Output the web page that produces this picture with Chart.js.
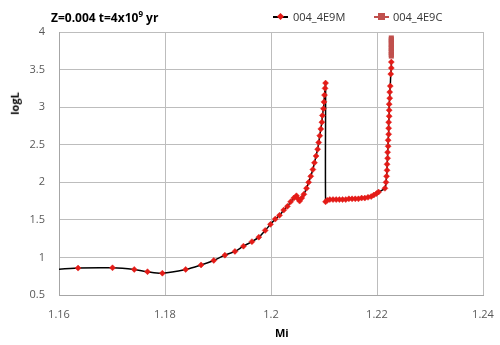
<!DOCTYPE html>
<html>
<head>
<meta charset="utf-8">
<script src="https://cdn.jsdelivr.net/npm/chart.js@4.4.0/dist/chart.umd.min.js"></script>
<style>
    body { margin: 0; background: #fff; }
    #wrap { position: relative; width: 500px; height: 345px; font-family: "Open Sans", "Liberation Sans", sans-serif; }
    #chart { position: absolute; left: 0; top: 0; }
    .lbl { position: absolute; color: #000; white-space: nowrap; }
    #title { left: 51px; top: 8px; font-size: 12px; font-weight: bold; }
    #title sup { font-size: 8px; }
    #xTitle { left: 275px; top: 325px; font-size: 11px; font-weight: bold; }
    #yTitle { left: 3px; top: 96px; font-size: 11px; font-weight: bold; transform: rotate(-90deg); }
    .leg { position: absolute; top: 9px; font-size: 11px; color: #333; }
    .leg .ln { position: absolute; top: 7px; width: 15px; height: 2px; }
    .leg .mk { position: absolute; }
    .leg .tx { position: absolute; top: 0; }
</style>
</head>
<body>
<div id="wrap">
    <canvas id="chart" width="500" height="345"></canvas>
    <div id="title" class="lbl">Z=0.004 t=4x10<sup>9</sup> yr</div>
    <div id="xTitle" class="lbl">Mi</div>
    <div id="yTitle" class="lbl">logL</div>
    <div class="leg" style="left:273px">
        <div class="ln" style="left:0;background:#000"></div>
        <div class="mk" style="left:5px;top:5px;width:5px;height:5px;background:#e41b17;transform:rotate(45deg)"></div>
        <div class="tx" style="left:20px">004_4E9M</div>
    </div>
    <div class="leg" style="left:374px">
        <div class="ln" style="left:0;background:#c0504d"></div>
        <div class="mk" style="left:4px;top:4px;width:7px;height:7px;background:#c0504d"></div>
        <div class="tx" style="left:19px">004_4E9C</div>
    </div>
</div>
<script>
// series 004_4E9M (Mi, logL)
const miM = [
    1.155, 1.1636, 1.1701, 1.1742, 1.1767, 1.1795, 1.1839, 1.1868, 1.1892, 1.1913,
    1.1932, 1.1948, 1.1964, 1.1977, 1.1989, 1.1999, 1.2008, 1.2016, 1.2024, 1.2031,
    1.2037, 1.2043, 1.2048, 1.2051, 1.2054, 1.2058, 1.2062, 1.2067, 1.2071, 1.2075,
    1.2079, 1.2082, 1.2085, 1.2088, 1.2090, 1.2092, 1.2094, 1.2096, 1.2097, 1.2099,
    1.2100, 1.2101, 1.2102, 1.2103,
    1.2103, 1.2106, 1.2111, 1.2117, 1.2123, 1.2129, 1.2135, 1.2141, 1.2147, 1.2153,
    1.2159, 1.2165, 1.2171, 1.2177, 1.2183, 1.2189, 1.2194, 1.2199, 1.2203,
    1.2215, 1.2217, 1.2218, 1.2219, 1.2219, 1.2220, 1.2220, 1.2221, 1.2221, 1.2222,
    1.2222, 1.2222, 1.2223, 1.2223, 1.2223, 1.2224, 1.2224, 1.2225,
    1.2226, 1.2227, 1.2227
];
const logLM = [
    0.82, 0.858, 0.862, 0.84, 0.81, 0.79, 0.84, 0.90, 0.96, 1.03,
    1.08, 1.15, 1.21, 1.27, 1.36, 1.44, 1.51, 1.56, 1.63, 1.68,
    1.74, 1.79, 1.82, 1.78, 1.75, 1.79, 1.84, 1.92, 2.00, 2.08,
    2.17, 2.26, 2.35, 2.44, 2.53, 2.62, 2.71, 2.80, 2.89, 2.98,
    3.07, 3.16, 3.25, 3.32,
    1.74, 1.76, 1.77, 1.77, 1.77, 1.77, 1.77, 1.77, 1.78, 1.78,
    1.78, 1.78, 1.79, 1.79, 1.80, 1.81, 1.83, 1.85, 1.87,
    1.92, 2.00, 2.08, 2.16, 2.24, 2.32, 2.40, 2.48, 2.56, 2.64,
    2.72, 2.80, 2.88, 2.96, 3.04, 3.12, 3.20, 3.28,
    3.44, 3.52, 3.60
];
// series 004_4E9C
const miC = [1.2227, 1.2227, 1.2227, 1.2227, 1.2227, 1.2227, 1.2227, 1.2227, 1.2227, 1.2227, 1.2227];
const logLC = [3.68, 3.70, 3.73, 3.75, 3.78, 3.80, 3.83, 3.85, 3.88, 3.90, 3.92];

const xTickLabels = ['1.16', '1.18', '1.2', '1.22', '1.24'];
const yTickLabels = ['0.5', '1', '1.5', '2', '2.5', '3', '3.5', '4'];

const toPoints = (xs, ys) => xs.map((x, i) => ({ x: x, y: ys[i] }));

const ctx = document.getElementById('chart').getContext('2d');
new Chart(ctx, {
    type: 'scatter',
    data: {
        datasets: [{
            label: '004_4E9M',
            data: toPoints(miM, logLM),
            showLine: true,
            borderColor: '#000000',
            borderWidth: 1.5,
            tension: 0.3,
            pointStyle: 'rectRot',
            pointRadius: 3,
            pointBackgroundColor: '#e41b17',
            pointBorderColor: '#e41b17',
            pointBorderWidth: 0.5
        }, {
            label: '004_4E9C',
            data: toPoints(miC, logLC),
            showLine: true,
            borderColor: '#c0504d',
            borderWidth: 1.5,
            pointStyle: 'rect',
            pointRadius: 3.6,
            pointBackgroundColor: '#c0504d',
            pointBorderColor: '#c0504d',
            pointBorderWidth: 0
        }]
    },
    options: {
        responsive: false,
        animation: false,
        layout: { padding: { left: 0, right: 17, top: 32, bottom: 0 } },
        plugins: {
            legend: { display: false },
            tooltip: { enabled: false }
        },
        scales: {
            x: {
                type: 'linear',
                min: 1.16,
                max: 1.24,
                afterFit: (scale) => {
                    scale.height = 50;
                    scale.paddingLeft = 0;
                    scale.paddingRight = 0;
                },
                afterBuildTicks: (scale) => {
                    scale.ticks = xTickLabels.map(t => ({ value: parseFloat(t) }));
                },
                ticks: {
                    color: '#595959',
                    font: { family: '"Open Sans", sans-serif', size: 11 },
                    padding: 13,
                    maxRotation: 0,
                    callback: (v) => xTickLabels.find(t => Math.abs(parseFloat(t) - v) < 1e-6) || ''
                },
                grid: { color: '#bdbdbd', drawTicks: false },
                border: { color: '#a6a6a6' }
            },
            y: {
                min: 0.5,
                max: 4,
                afterFit: (scale) => {
                    scale.width = 59;
                    scale.paddingTop = 0;
                    scale.paddingBottom = 0;
                },
                afterBuildTicks: (scale) => {
                    scale.ticks = yTickLabels.map(t => ({ value: parseFloat(t) }));
                },
                ticks: {
                    color: '#595959',
                    font: { family: '"Open Sans", sans-serif', size: 11 },
                    padding: 14,
                    callback: (v) => yTickLabels.find(t => Math.abs(parseFloat(t) - v) < 1e-6) || ''
                },
                grid: { color: '#bdbdbd', drawTicks: false },
                border: { color: '#a6a6a6' }
            }
        }
    }
});
</script>
</body>
</html>
